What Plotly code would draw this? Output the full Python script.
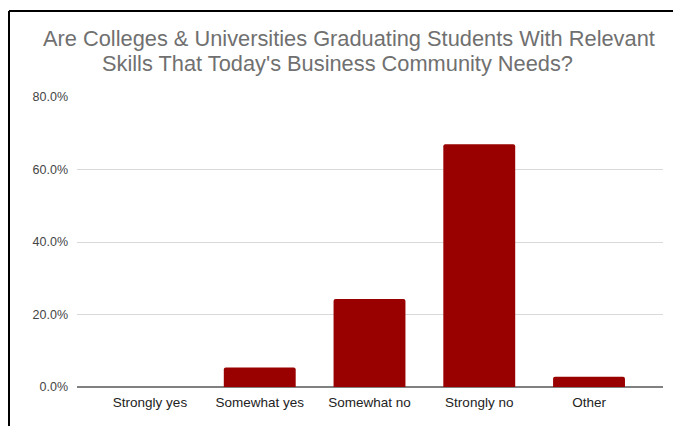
import plotly.graph_objects as go

# Survey responses (share of respondents, %)
categories = ["Strongly yes", "Somewhat yes", "Somewhat no", "Strongly no", "Other"]
shares = [0.0, 5.4, 24.3, 67.0, 2.8]
y_ticks = [0, 20, 40, 60, 80]
y_tick_labels = ["0.0%", "20.0%", "40.0%", "60.0%", "80.0%"]

title_lines = [
    "Are Colleges & Universities Graduating Students With Relevant",
    "Skills That Today's Business Community Needs?",
]

W, H = 673, 426
L, R, T, B = 77, 10, 97, 39
plot_w, plot_h = W - L - R, H - T - B


def px_to_paper_x(px):
    return (px - L) / plot_w


def px_to_paper_y(py):
    return (H - B - py) / plot_h


fig = go.Figure(
    go.Bar(
        x=list(range(len(categories))),
        y=shares,
        width=0.655,
        marker=dict(color="#990000", cornerradius=2, line=dict(width=0)),
        hoverinfo="skip",
    )
)

fig.update_layout(
    width=W,
    height=H,
    margin=dict(l=L, r=R, t=T, b=B),
    paper_bgcolor="white",
    plot_bgcolor="white",
    showlegend=False,
    font=dict(family="Liberation Sans, Arial, sans-serif"),
)

fig.update_xaxes(
    range=[-0.665, 4.674],
    tickmode="array",
    tickvals=list(range(len(categories))),
    ticktext=categories,
    tickfont=dict(size=13.5, color="#222222"),
    showgrid=False,
    zeroline=False,
    showline=False,
    ticks="",
    ticklabelstandoff=5,
)

fig.update_yaxes(
    range=[0, 80],
    tickmode="array",
    tickvals=y_ticks,
    ticktext=y_tick_labels,
    tickfont=dict(size=12.5, color="#444444"),
    showgrid=True,
    gridcolor="#d9d9d9",
    gridwidth=1,
    zeroline=True,
    zerolinecolor="#808080",
    zerolinewidth=1.5,
    ticks="",
    ticklabelstandoff=8,
)

# Two-line chart title
title_pos = [(349, 48), (337, 73)]
for text, (cx, baseline) in zip(title_lines, title_pos):
    fig.add_annotation(
        text=text,
        xref="paper",
        yref="paper",
        x=px_to_paper_x(cx),
        y=px_to_paper_y(baseline + 5),
        xanchor="center",
        yanchor="bottom",
        showarrow=False,
        font=dict(size=21.8, color="#707070"),
    )

# Frame lines along the left and top edges
frame = dict(color="black", width=2)
fig.add_shape(type="line", xref="paper", yref="paper",
              x0=px_to_paper_x(9), y0=px_to_paper_y(11),
              x1=px_to_paper_x(9), y1=px_to_paper_y(H + 10), line=frame)
fig.add_shape(type="line", xref="paper", yref="paper",
              x0=px_to_paper_x(9), y0=px_to_paper_y(11),
              x1=px_to_paper_x(W + 10), y1=px_to_paper_y(11), line=frame)

fig.write_html("out.html")
